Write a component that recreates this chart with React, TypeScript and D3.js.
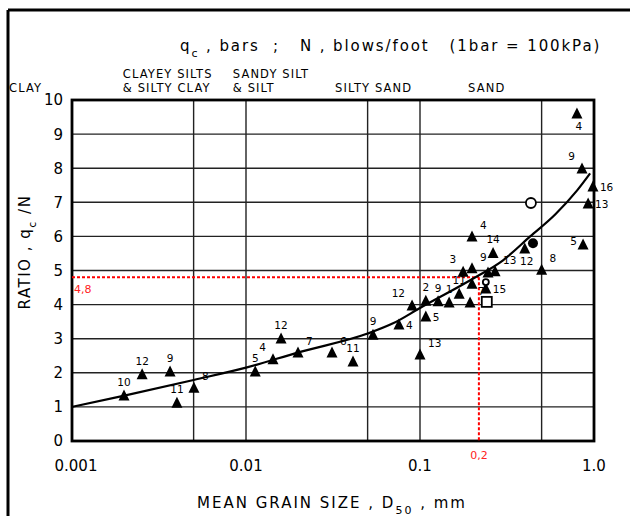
import React from 'react';
import * as d3 from 'd3';

// triangles: mean grain size (mm), ratio qc/N, label, label side
const triD50 = [0.00199, 0.00253, 0.00366, 0.00401, 0.00502, 0.0113, 0.0143, 0.0159, 0.0199, 0.0312,
  0.0412, 0.0537, 0.0757, 0.09, 0.108, 0.108, 0.127, 0.147, 0.168, 0.194,
  0.177, 0.199, 0.199, 0.263, 0.246, 0.27, 0.40, 0.50, 0.865, 0.798,
  0.853, 0.986, 0.925, 0.1, 0.239, 0.199];
const triRatio = [1.32, 1.94, 2.02, 1.11, 1.55, 2.02, 2.38, 2.99, 2.58, 2.58,
  2.32, 3.1, 3.4, 3.96, 4.1, 3.64, 4.08, 4.05, 4.3, 4.05,
  4.95, 5.05, 5.98, 5.5, 4.93, 4.96, 5.63, 5.01, 5.75, 9.59,
  7.98, 7.45, 6.95, 2.52, 4.46, 4.6];
const triLabel = ['10', '12', '9', '11', '8', '5', '4', '12', '7', '6',
  '11', '9', '4', '12', '2', '5', '9', '1', '11', '7',
  '3', '9', '4', '14', '', '13', '12', '8', '5', '4',
  '9', '16', '13', '13', '15', ''];
const triSide = ['n', 'n', 'n', 'n', 'ne', 'n', 'nw', 'n', 'ne', 'ne',
  'n', 'n', 'e', 'nw', 'n', 'e', 'n', 'n', 'n', 'ne',
  'nw', 'ne', 'ne', 'n', 'n', 'ne', 's', 'ne', 'w', 's',
  'nw', 'e', 'e', 'ne', 'e', 'n'];

// other symbols
const openCircleD50 = [0.434, 0.239];
const openCircleRatio = [6.98, 4.66];
const openCircleSize = [5, 3];
const filledCircleD50 = [0.446];
const filledCircleRatio = [5.8];
const squareD50 = [0.242];
const squareRatio = [4.08];

// fitted curve
const curveD50 = [0.001, 0.002, 0.005, 0.01, 0.02, 0.05, 0.07, 0.1, 0.2, 0.3, 0.43, 0.6, 0.8, 0.95];
const curveRatio = [1.0, 1.33, 1.79, 2.15, 2.6, 3.15, 3.45, 3.9, 4.75, 5.3, 6.0, 6.65, 7.35, 7.85];

const xTicks = [0.001, 0.01, 0.1, 1];
const xTickLabels = ['0.001', '0.01', '0.1', '1.0'];
const xGrid = [0.005, 0.01, 0.05, 0.1, 0.5];
const yTicks = [0, 1, 2, 3, 4, 5, 6, 7, 8, 9, 10];

const refD50 = 0.218;
const refRatio = 4.8;
const refLabels = ['0,2', '4,8'];

const soilNames = [['CLAY'], ['CLAYEY SILTS', '& SILTY CLAY'], ['SANDY SILT', '& SILT'], ['SILTY SAND'], ['SAND']];
const soilD50 = [0.00038, 0.00196, 0.0084, 0.0325, 0.189];

const FONT = '"DejaVu Sans", "Liberation Sans", sans-serif';

export default function App() {
  const x = d3.scaleLog().domain([0.001, 1]).range([72, 594]);
  const y = d3.scaleLinear().domain([0, 10]).range([441, 100]);

  const line = d3.line<number>()
    .x((_, i) => x(curveD50[i]))
    .y(d => y(d))
    .curve(d3.curveMonotoneX);

  const tri = (cx: number, cy: number) => `M${cx},${cy - 6.5} L${cx + 5.5},${cy + 4.5} L${cx - 5.5},${cy + 4.5} Z`;

  const labelOffset = (side: string) => {
    switch (side) {
      case 'ne': return [8, -8, 'start'];
      case 'nw': return [-7, -9, 'end'];
      case 'e': return [7, 4, 'start'];
      case 'w': return [-6, 0, 'end'];
      case 's': return [2, 16, 'middle'];
      default: return [0, -10, 'middle'];
    }
  };

  return (
    <svg width={630} height={516} style={{ position: 'absolute', left: 0, top: 0, background: '#fff' }}
      fontFamily={FONT}>
      {/* page border */}
      <line x1={8} y1={10} x2={630} y2={10} stroke="#000" strokeWidth={3} />
      <line x1={8} y1={10} x2={8} y2={516} stroke="#000" strokeWidth={3} />

      {/* title */}
      <text x={180} y={51} fontSize={15} letterSpacing={1.9} style={{ whiteSpace: 'pre' }}>
        q<tspan dy={6} fontSize={11}>c</tspan><tspan dy={-6}> , bars  ;   N , blows/foot   (1bar = 100kPa)</tspan>
      </text>

      {/* soil names */}
      {soilNames.map((rows, i) => rows.map((r, j) => (
        <text key={`s${i}${j}`} x={i === 0 ? 9 : x(soilD50[i])} y={92 - (rows.length - 1 - j) * 14}
          fontSize={11.5} letterSpacing={1.1}>{r}</text>
      )))}

      {/* grid */}
      {yTicks.slice(1, -1).map(t => (
        <line key={`h${t}`} x1={72} x2={594} y1={y(t)} y2={y(t)} stroke="#222" strokeWidth={1.4} />
      ))}
      {xGrid.map(t => (
        <line key={`v${t}`} x1={x(t)} x2={x(t)} y1={100} y2={441} stroke="#222" strokeWidth={1.4} />
      ))}
      <rect x={72} y={100} width={522} height={341} fill="none" stroke="#000" strokeWidth={2.8} />

      {/* y ticks */}
      {yTicks.map(t => (
        <text key={`yt${t}`} x={63} y={y(t)} dy="0.36em" textAnchor="end" fontSize={15}>{t}</text>
      ))}
      {/* x ticks */}
      {xTicks.map((t, i) => (
        <text key={`xt${t}`} x={x(t) + (i === 0 ? 4 : 0)} y={471} textAnchor="middle" fontSize={15}>{xTickLabels[i]}</text>
      ))}

      {/* axis titles */}
      <text transform="translate(30,252) rotate(-90)" textAnchor="middle" fontSize={15} letterSpacing={1.5}
        style={{ whiteSpace: 'pre' }}>
        RATIO , q<tspan dy={6} fontSize={11}>c</tspan><tspan dy={-6}> /N</tspan>
      </text>
      <text x={332} y={508} textAnchor="middle" fontSize={15} letterSpacing={2} style={{ whiteSpace: 'pre' }}>
        MEAN GRAIN SIZE , D<tspan dy={6} fontSize={11}>50</tspan><tspan dy={-6}> , mm</tspan>
      </text>

      {/* reference lines */}
      <line x1={72} x2={x(refD50)} y1={y(refRatio)} y2={y(refRatio)} stroke="#f00" strokeWidth={2} strokeDasharray="3,2" />
      <line x1={x(refD50)} x2={x(refD50)} y1={y(refRatio)} y2={441} stroke="#f00" strokeWidth={2} strokeDasharray="3,2" />
      <text x={x(refD50)} y={459} textAnchor="middle" fontSize={11} fill="#f22">{refLabels[0]}</text>
      <text x={74} y={293} fontSize={11} fill="#f22">{refLabels[1]}</text>

      {/* curve */}
      <path d={line(curveRatio) || ''} fill="none" stroke="#000" strokeWidth={2.2} />

      {/* triangles */}
      {triD50.map((d, i) => {
        const cx = x(d), cy = y(triRatio[i]);
        const [dx, dy, anchor] = labelOffset(triSide[i]);
        return (
          <g key={`t${i}`}>
            <path d={tri(cx, cy)} fill="#000" />
            {triLabel[i] && (
              <text x={cx + (dx as number)} y={cy + (dy as number)} textAnchor={anchor as string} fontSize={10.5}>
                {triLabel[i]}
              </text>
            )}
          </g>
        );
      })}

      {openCircleD50.map((d, i) => (
        <circle key={`oc${i}`} cx={x(d)} cy={y(openCircleRatio[i])} r={openCircleSize[i]} fill="#fff" stroke="#000" strokeWidth={1.8} />
      ))}
      {filledCircleD50.map((d, i) => (
        <circle key={`fc${i}`} cx={x(d)} cy={y(filledCircleRatio[i])} r={5} fill="#000" />
      ))}
      {squareD50.map((d, i) => (
        <rect key={`sq${i}`} x={x(d) - 5} y={y(squareRatio[i]) - 5} width={10} height={10} fill="#fff" stroke="#000" strokeWidth={1.8} />
      ))}
    </svg>
  );
}
